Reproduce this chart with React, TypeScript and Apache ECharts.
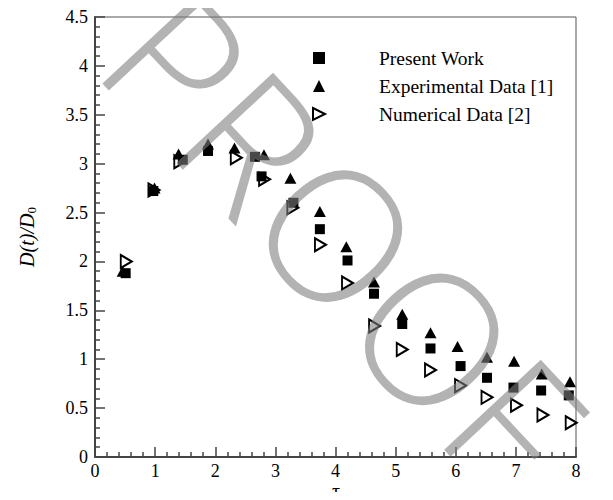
import React, { useEffect, useRef } from "react";
import * as echarts from "echarts";

// Present Work (filled squares)
const presentTau = [0.51, 0.97, 1.46, 1.88, 2.66, 2.77, 3.3, 3.74, 4.2, 4.64, 5.11, 5.58, 6.08, 6.52, 6.96, 7.42, 7.88];
const presentD = [1.88, 2.72, 3.04, 3.13, 3.07, 2.87, 2.6, 2.33, 2.01, 1.67, 1.36, 1.11, 0.93, 0.81, 0.71, 0.68, 0.63];

// Experimental Data [1] (filled triangles)
const expTau = [0.46, 0.99, 1.39, 1.88, 2.32, 2.81, 3.25, 3.74, 4.18, 4.64, 5.11, 5.58, 6.03, 6.52, 6.97, 7.43, 7.9];
const expD = [1.9, 2.75, 3.1, 3.2, 3.16, 3.09, 2.85, 2.51, 2.15, 1.79, 1.46, 1.27, 1.13, 1.02, 0.98, 0.85, 0.77];

// Numerical Data [2] (open right-pointing triangles)
const numTau = [0.52, 0.98, 1.41, 2.35, 2.82, 3.29, 3.75, 4.2, 4.65, 5.11, 5.58, 6.08, 6.52, 7.01, 7.45, 7.92];
const numD = [2.0, 2.73, 3.02, 3.06, 2.84, 2.55, 2.17, 1.78, 1.34, 1.1, 0.89, 0.73, 0.61, 0.53, 0.43, 0.35];

const seriesNames = ["Present Work", "Experimental Data [1]", "Numerical Data [2]"];
const xTicks = { min: 0, max: 8, interval: 1 };
const yTicks = { min: 0, max: 4.5, interval: 0.5 };
const xAxisTitle = "τ";
const watermarkText = "PROOF";

const FONT = "Liberation Serif";

const zip = (a: number[], b: number[]) => a.map((v, i) => [v, b[i]]);

export default function App() {
  const ref = useRef<HTMLDivElement>(null);
  useEffect(() => {
    if (!ref.current) return;
    const chart = echarts.init(ref.current, undefined, { renderer: "svg" });
    const axisCommon = {
      type: "value" as const,
      axisLine: { show: true, onZero: false, lineStyle: { color: "#444", width: 2 } },
      axisTick: { show: true, inside: true, length: 10, lineStyle: { color: "#444", width: 1.5 } },
      minorTick: { show: true, splitNumber: 5, length: 5, lineStyle: { color: "#444", width: 1.5 } },
      splitLine: { show: false },
      minorSplitLine: { show: false },
    };
    chart.setOption({
      animation: false,
      textStyle: { fontFamily: FONT },
      grid: {
        left: 95,
        right: 37,
        top: 17,
        bottom: 43,
        show: true,
        borderColor: "#555",
        borderWidth: 1,
        outerBoundsMode: "none",
      },
      legend: {
        orient: "vertical",
        left: 312,
        top: 48,
        padding: 0,
        itemWidth: 12,
        itemHeight: 12,
        itemGap: 8,
        data: seriesNames,
        textStyle: {
          fontFamily: FONT,
          fontSize: 19.5,
          color: "#000",
          lineHeight: 20,
          padding: [0, 0, 0, 49],
        },
      },
      xAxis: {
        ...axisCommon,
        ...xTicks,
        axisLabel: { fontFamily: FONT, fontSize: 18, color: "#000", margin: 5 },
      },
      yAxis: {
        ...axisCommon,
        ...yTicks,
        name: "{i|D(t)/D}{s|0}",
        nameLocation: "middle",
        nameGap: 57,
        nameRotate: 90,
        nameTextStyle: {
          rich: {
            i: { fontFamily: FONT, fontStyle: "italic", fontSize: 20, color: "#000" },
            s: { fontFamily: FONT, fontSize: 13, color: "#000", padding: [9, 0, 0, 0] },
          },
        },
        axisLabel: { fontFamily: FONT, fontSize: 18, color: "#000", margin: 7 },
      },
      series: [
        {
          name: seriesNames[2],
          type: "scatter",
          data: zip(numTau, numD),
          symbol: "path://M0,0L10,5L0,10Z",
          symbolSize: [11, 13],
          itemStyle: { color: "#fff", borderColor: "#000", borderWidth: 2, opacity: 1 },
        },
        {
          name: seriesNames[1],
          type: "scatter",
          data: zip(expTau, expD),
          symbol: "triangle",
          symbolSize: [12, 11],
          itemStyle: { color: "#000", opacity: 1 },
        },
        {
          name: seriesNames[0],
          type: "scatter",
          data: zip(presentTau, presentD),
          symbol: "rect",
          symbolSize: 10,
          itemStyle: { color: "#000", opacity: 1 },
        },
      ],
      graphic: [
        {
          type: "text",
          x: 336,
          y: 491,
          silent: true,
          style: {
            text: xAxisTitle,
            fontFamily: FONT,
            fontSize: 20,
            lineHeight: 17,
            align: "center",
            verticalAlign: "middle",
            fill: "#000",
          },
        },
        {
          type: "text",
          x: 345,
          y: 238,
          rotation: (-47 * Math.PI) / 180,
          z: 100,
          silent: true,
          style: {
            text: watermarkText,
            fontFamily: "'Open Sans', 'DejaVu Sans', sans-serif",
            fontWeight: 300,
            fontSize: 185,
            align: "center",
            verticalAlign: "middle",
            fill: "rgba(126,126,126,0.59)",
          },
        },
      ],
    });
    return () => chart.dispose();
  }, []);
  return <div ref={ref} style={{ width: 613, height: 500, margin: -8 }} />;
}
